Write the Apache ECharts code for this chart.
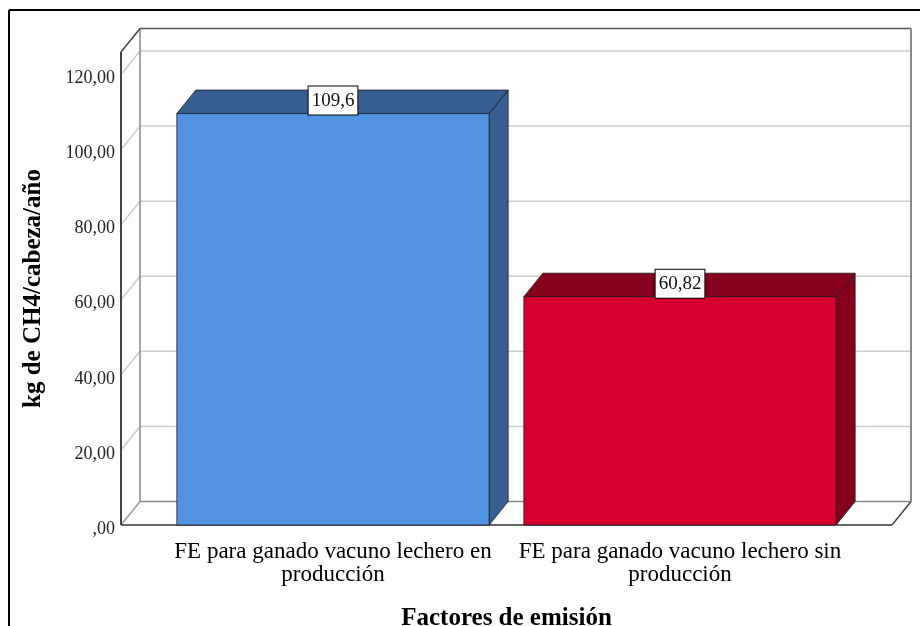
<!DOCTYPE html>
<html>
<head>
<meta charset="utf-8">
<script src="https://cdn.jsdelivr.net/npm/echarts@6/dist/echarts.min.js"></script>
<style>
html,body{margin:0;padding:0;background:#fff;}
#chart{width:920px;height:626px;}
</style>
</head>
<body>
<div id="chart"></div>
<script>
// ---- data ----
var categories = ['FE para ganado vacuno lechero en producción', 'FE para ganado vacuno lechero sin producción'];
var values = [109.6, 60.82];
var yTicks = [0, 20, 40, 60, 80, 100, 120];
var yAxisTitle = 'kg de CH4/cabeza/año';
var xAxisTitle = 'Factores de emisión';

// ---- style ----
var FRONT = ['#5294e2', '#d5002e'];
var SHADE = ['#365e91', '#86001e'];
var DX = 19, DY = -23.5;   // 3D depth offset
var EXT = 38.5;            // wall extension beyond category band
var SERIF = 'Liberation Serif';

function fmtNum(v) {
  var s = v.toFixed(2).replace('.', ',');
  return v === 0 ? ',00' : s;
}

var chart = echarts.init(document.getElementById('chart'));

function wallsRender(params, api) {
  var cs = params.coordSys;
  var L = cs.x - EXT, R = cs.x + cs.width + EXT;
  var yTop = cs.y;
  var y0 = api.coord([0, 0])[1];
  var ch = [];
  function line(x1, y1, x2, y2, color, w) {
    ch.push({type: 'line', shape: {x1: x1, y1: y1, x2: x2, y2: y2},
      style: {stroke: color, lineWidth: w}});
  }
  yTicks.forEach(function (v) {
    if (v === 0) return;
    var y = api.coord([0, v])[1];
    line(L + DX, y + DY, R + DX, y + DY, '#cccccc', 1.5);
    line(L, y, L + DX, y + DY, '#cccccc', 1.5);
  });
  // back wall
  line(L + DX, yTop + DY, R + DX, yTop + DY, '#555555', 1.5);
  line(R + DX, yTop + DY, R + DX, y0 + DY, '#8a8a8a', 2);
  line(L + DX, yTop + DY, L + DX, y0 + DY, '#8a8a8a', 1.5);
  // floor back & left diagonal
  line(L + DX, y0 + DY, R + DX, y0 + DY, '#8a8a8a', 1.5);
  line(L, y0, L + DX, y0 + DY, '#9a9a9a', 1.5);
  // left wall front
  line(L, yTop, L, y0, '#444444', 2);
  line(L, yTop, L + DX, yTop + DY, '#444444', 1.5);
  // floor front
  line(L, y0, R, y0, '#333333', 1.5);
  line(R, y0, R + DX, y0 + DY, '#444444', 1.5);
  return {type: 'group', children: ch};
}

function barsRender(params, api) {
  var i = api.value(0);
  var v = api.value(1);
  var top = api.coord([i, v]);
  var base = api.coord([i, 0]);
  var bw = api.size([1, 0])[0] * 0.9;
  var xL = top[0] - bw / 2, xR = top[0] + bw / 2;
  var yT = top[1], y0 = base[1];
  var stroke = '#1a1a1a';
  return {
    type: 'group',
    children: [
      {type: 'polygon', shape: {points: [[xR, yT], [xR + DX, yT + DY], [xR + DX, y0 + DY], [xR, y0]]},
        style: {fill: SHADE[i], stroke: stroke, lineWidth: 0.8}},
      {type: 'polygon', shape: {points: [[xL, yT], [xR, yT], [xR + DX, yT + DY], [xL + DX, yT + DY]]},
        style: {fill: SHADE[i], stroke: stroke, lineWidth: 0.8}},
      {type: 'rect', shape: {x: xL, y: yT, width: bw, height: y0 - yT},
        style: {fill: FRONT[i], stroke: stroke, lineWidth: 0.8}},
      {type: 'text', z2: 10, style: {
        text: String(values[i]).replace('.', ','),
        x: top[0], y: yT + 1, align: 'center', verticalAlign: 'bottom',
        fontFamily: SERIF, fontSize: 19, fill: '#111',
        backgroundColor: '#ffffff', borderColor: '#000000', borderWidth: 1,
        padding: [5, 3, 4, 3]
      }}
    ]
  };
}

var option = {
  backgroundColor: '#ffffff',
  animation: false,
  graphic: [
    {type: 'line', shape: {x1: 9, y1: 10, x2: 920, y2: 10}, style: {stroke: '#000', lineWidth: 2}},
    {type: 'line', shape: {x1: 9, y1: 10, x2: 9, y2: 626}, style: {stroke: '#000', lineWidth: 2}}
  ],
  grid: {left: 159.5, right: 66.5, top: 52, bottom: 101, outerBoundsMode: 'none', containLabel: false},
  xAxis: {
    type: 'category',
    data: categories,
    axisLine: {show: false},
    axisTick: {show: false},
    axisLabel: {
      interval: 0,
      margin: 15,
      fontFamily: SERIF, fontSize: 23, color: '#000', lineHeight: 23,
      formatter: function (s) {
        var k = s.lastIndexOf(' ');
        return s.slice(0, k) + '\n' + s.slice(k + 1);
      }
    },
    name: xAxisTitle,
    nameLocation: 'middle',
    nameGap: 81,
    nameTextStyle: {fontFamily: SERIF, fontSize: 25, fontWeight: 'bold', color: '#000'}
  },
  yAxis: {
    type: 'value',
    min: 0, max: 126, interval: 20,
    offset: EXT,
    axisLine: {show: false},
    axisTick: {show: false},
    splitLine: {show: false},
    axisLabel: {
      margin: 6,
      fontFamily: SERIF, fontSize: 18, color: '#222',
      verticalAlign: 'top', lineHeight: 8,
      formatter: function (v) { return yTicks.indexOf(v) >= 0 ? fmtNum(v) : ''; }
    },
    name: yAxisTitle,
    nameLocation: 'middle',
    nameRotate: 90,
    nameGap: 75,
    nameTextStyle: {fontFamily: SERIF, fontSize: 25, fontWeight: 'bold', color: '#000'}
  },
  series: [
    {type: 'custom', z: 1, silent: true, renderItem: wallsRender, data: [[0, 0]]},
    {type: 'custom', z: 2, renderItem: barsRender,
      data: values.map(function (v, i) { return [i, v]; })}
  ]
};
chart.setOption(option);
</script>
</body>
</html>
